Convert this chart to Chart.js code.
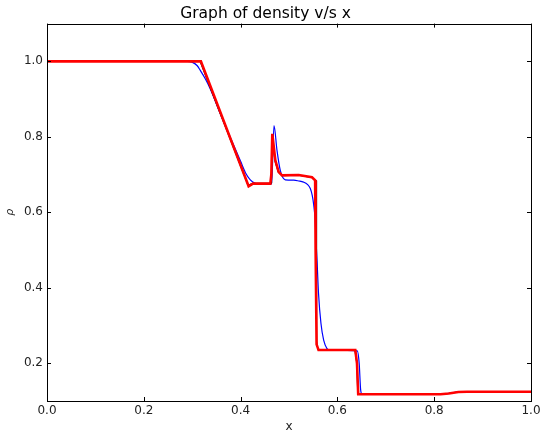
<!DOCTYPE html>
<html>
<head>
<meta charset="utf-8">
<script src="https://cdn.jsdelivr.net/npm/chart.js@4"></script>
<style>
  html, body { margin: 0; padding: 0; background: #fff; }
  #wrap { width: 542px; height: 433px; }
</style>
</head>
<body>
<div id="wrap"><canvas id="densityChart" width="542" height="433"></canvas></div>
<script>
// values
const xTicks = [0.0, 0.2, 0.4, 0.6, 0.8, 1.0];
const yTicks = [0.2, 0.4, 0.6, 0.8, 1.0];

const xBlue = [0, 0.29, 0.2995, 0.31, 0.3167, 0.327, 0.3374, 0.36, 0.39, 0.40, 0.41, 0.42, 0.43, 0.44, 0.4641,
    0.469, 0.4752, 0.482, 0.4924, 0.51, 0.52, 0.53, 0.538, 0.544, 0.548, 0.551, 0.554, 0.556, 0.558, 0.561,
    0.566, 0.5716, 0.5785, 0.585, 0.641, 0.645, 0.648, 0.651, 0.813, 0.83, 0.85, 0.868, 1.0];
const rhoBlue = [1.0, 1.0, 0.998, 0.989, 0.976, 0.954, 0.927, 0.855, 0.765, 0.735, 0.705, 0.686, 0.677, 0.674, 0.675,
    0.830, 0.764, 0.711, 0.686, 0.685, 0.683, 0.680, 0.674, 0.663, 0.645, 0.620, 0.580, 0.520, 0.470, 0.385,
    0.306, 0.261, 0.239, 0.235, 0.233, 0.200, 0.130, 0.1177, 0.1177, 0.120, 0.124, 0.1246, 0.1246];

const xRed = [0, 0.318, 0.4166, 0.4256, 0.4614, 0.4635, 0.4655, 0.4717, 0.4786, 0.4855, 0.52, 0.5475, 0.554,
    0.555, 0.557, 0.561, 0.637, 0.6405, 0.643, 0.813, 0.83, 0.85, 0.868, 1.0];
const rhoRed = [1.0, 1.0, 0.669, 0.676, 0.676, 0.700, 0.808, 0.738, 0.707, 0.698, 0.699, 0.693, 0.685,
    0.500, 0.250, 0.235, 0.235, 0.200, 0.1177, 0.1177, 0.120, 0.124, 0.1246, 0.1246];

const xBlack = [0, 0.316, 0.4150, 0.4250, 0.4632, 0.4642, 0.4650, 0.4710, 0.4780, 0.4850, 0.52, 0.5470, 0.556,
    0.5565, 0.5575, 0.560, 0.636, 0.6400, 0.642, 0.813, 0.83, 0.85, 0.868, 1.0];
const rhoBlack = [1.0, 1.0, 0.672, 0.677, 0.677, 0.760, 0.800, 0.735, 0.705, 0.697, 0.698, 0.692, 0.684,
    0.520, 0.260, 0.235, 0.235, 0.200, 0.1177, 0.1177, 0.120, 0.124, 0.1246, 0.1246];

function pts(xs, ys) {
    return xs.map((x, i) => ({x: x, y: ys[i]}));
}

Chart.defaults.font.family = "'DejaVu Sans', sans-serif";
Chart.defaults.color = '#222';

// matplotlib-style frame with inward ticks on all four sides
const framePlugin = {
    id: 'frame',
    afterDraw(chart) {
        const {ctx, chartArea: a, scales} = chart;
        const len = 4;
        ctx.save();
        ctx.strokeStyle = '#000';
        ctx.lineWidth = 1;
        ctx.beginPath();
        scales.x.ticks.forEach(t => {
            const px = Math.round(scales.x.getPixelForValue(t.value)) + 0.5;
            ctx.moveTo(px, a.bottom); ctx.lineTo(px, a.bottom - len);
            ctx.moveTo(px, a.top); ctx.lineTo(px, a.top + len);
        });
        scales.y.ticks.forEach(t => {
            const py = Math.round(scales.y.getPixelForValue(t.value)) + 0.5;
            ctx.moveTo(a.left, py); ctx.lineTo(a.left + len, py);
            ctx.moveTo(a.right, py); ctx.lineTo(a.right - len, py);
        });
        ctx.stroke();
        ctx.strokeRect(Math.round(a.left) + 0.5, Math.round(a.top) + 0.5,
            Math.round(a.right - a.left), Math.round(a.bottom - a.top));
        ctx.restore();
    }
};

const ctx = document.getElementById('densityChart').getContext('2d');

const densityChart = new Chart(ctx, {
    type: 'line',
    data: {
        datasets: [
            {
                label: 'red',
                data: pts(xRed, rhoRed),
                borderColor: '#ff0000',
                borderWidth: 2.6,
                pointRadius: 0,
                order: 0
            },
            {
                label: 'black',
                data: pts(xBlack, rhoBlack),
                borderColor: '#000000',
                borderWidth: 1,
                pointRadius: 0,
                order: 1
            },
            {
                label: 'blue',
                data: pts(xBlue, rhoBlue),
                borderColor: '#0000ff',
                borderWidth: 1.2,
                pointRadius: 0,
                cubicInterpolationMode: 'monotone',
                order: 2
            }
        ]
    },
    options: {
        responsive: false,
        animation: false,
        events: [],
        layout: {padding: {left: 0, right: 11, top: 0, bottom: 0}},
        plugins: {
            legend: {display: false},
            tooltip: {enabled: false},
            title: {
                display: true,
                text: 'Graph of density v/s x',
                color: '#000',
                font: {size: 15.5, weight: 'normal'},
                padding: {top: 5, bottom: 0}
            }
        },
        scales: {
            x: {
                type: 'linear',
                min: 0,
                max: 1,
                afterBuildTicks: s => { s.ticks = xTicks.map(v => ({value: v})); },
                afterFit: s => { s.height = 32; s.paddingLeft = 0; s.paddingRight = 0; },
                grid: {display: false, drawTicks: false},
                border: {display: false},
                ticks: {
                    font: {size: 12},
                    padding: 3,
                    maxRotation: 0,
                    callback: v => v.toFixed(1)
                },
                title: {
                    display: true,
                    text: 'x',
                    font: {size: 12},
                    padding: {top: 0, bottom: -1}
                }
            },
            y: {
                type: 'linear',
                min: 0.1,
                max: 1.1,
                afterBuildTicks: s => { s.ticks = yTicks.map(v => ({value: v})); },
                afterFit: s => { s.width = 47; },
                grid: {display: false, drawTicks: false},
                border: {display: false},
                ticks: {
                    font: {size: 12},
                    padding: 4,
                    callback: v => v.toFixed(1)
                },
                title: {
                    display: true,
                    text: 'ρ',
                    font: {size: 11, style: 'italic'},
                    padding: {top: 4, bottom: 0}
                }
            }
        }
    },
    plugins: [framePlugin]
});
</script>
</body>
</html>
